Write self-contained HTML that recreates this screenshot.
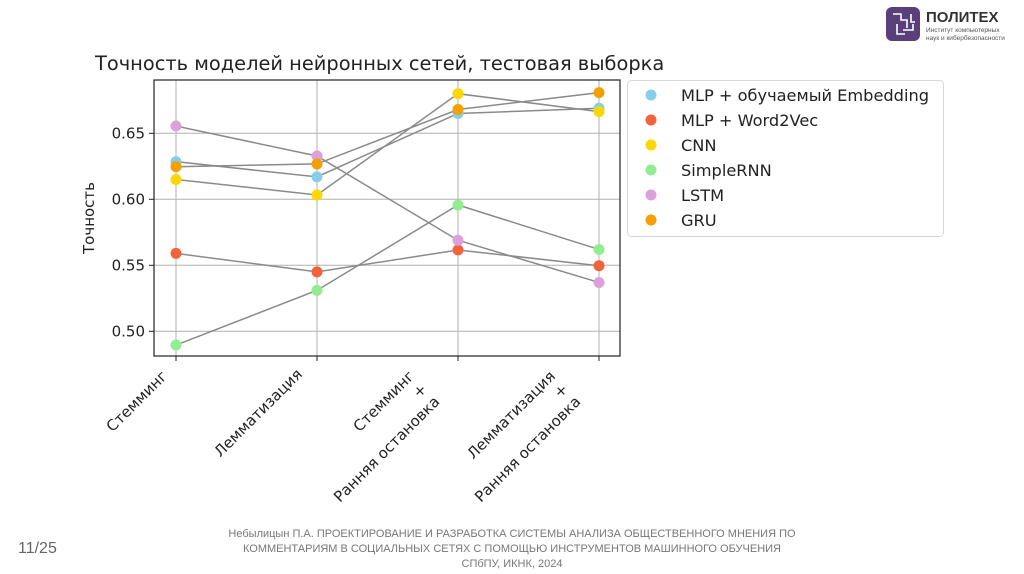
<!DOCTYPE html>
<html><head><meta charset="utf-8"><style>
body{margin:0;background:#fff;}
svg{display:block;font-family:"DejaVu Sans","Liberation Sans",sans-serif;}
</style></head><body>
<svg id="chart" width="1024" height="574" viewBox="0 0 1024 574">
  <g>
    <rect x="886" y="7" width="34" height="34" rx="6" fill="#5b3f7a"/>
    <path d="M893 14h8v6h6v8M897 24v10h8M911 14v8h4M903 30h10v-6" stroke="#fff" stroke-width="1.6" fill="none"/>
    <text x="926" y="22" font-size="15" font-weight="bold" fill="#333" font-family="Liberation Sans,sans-serif">ПОЛИТЕХ</text>
    <text x="926" y="32" font-size="6.5" fill="#555" font-family="Liberation Sans,sans-serif">Институт компьютерных</text>
    <text x="926" y="40" font-size="6.5" fill="#555" font-family="Liberation Sans,sans-serif">наук и кибербезопасности</text>
  </g>
  <text x="95" y="70" font-size="19.4" fill="#222">Точность моделей нейронных сетей, тестовая выборка</text>
  <g id="grid"></g>
  <g id="lines"></g>
  <g id="points"></g>
  <rect x="154" y="80" width="466" height="276" fill="none" stroke="#222" stroke-width="1.2"/>
  <g id="yticks"></g>
  <g id="xticks"></g>
  <text transform="translate(94,218) rotate(-90)" text-anchor="middle" font-size="15" fill="#222">Точность</text>
  <rect x="627.5" y="80.5" width="316" height="156" rx="4" fill="#fff" stroke="#d8d8d8"/>
  <g id="legend"></g>
  <g font-family="Liberation Sans,sans-serif" fill="#777" font-size="11" text-anchor="middle">
    <text x="512" y="537">Небылицын П.А. ПРОЕКТИРОВАНИЕ И РАЗРАБОТКА СИСТЕМЫ АНАЛИЗА ОБЩЕСТВЕННОГО МНЕНИЯ ПО</text>
    <text x="512" y="552">КОММЕНТАРИЯМ В СОЦИАЛЬНЫХ СЕТЯХ С ПОМОЩЬЮ ИНСТРУМЕНТОВ МАШИННОГО ОБУЧЕНИЯ</text>
    <text x="512" y="567">СПбПУ, ИКНК, 2024</text>
  </g>
  <text x="18" y="553" font-size="16" fill="#666" font-family="Liberation Sans,sans-serif">11/25</text>
</svg>
<script>
const categories = [["Стемминг"],["Лемматизация"],["Стемминг","+","Ранняя остановка"],["Лемматизация","+","Ранняя остановка"]];
const seriesNames = ["MLP + обучаемый Embedding","MLP + Word2Vec","CNN","SimpleRNN","LSTM","GRU"];
const seriesColors = ["#87ceeb","#f4623a","#ffd700","#90ee90","#dda0dd","#f5a000"];
const mlpEmb = [0.6285,0.617,0.665,0.669];
const mlpW2V = [0.559,0.545,0.5616,0.5497];
const cnn = [0.615,0.6033,0.680,0.6664];
const rnn = [0.4896,0.531,0.5957,0.562];
const lstm = [0.6555,0.6328,0.569,0.537];
const gru = [0.6247,0.6268,0.668,0.6808];
const yTicks = [0.50,0.55,0.60,0.65];
const yTickLabels = ["0.50","0.55","0.60","0.65"];
const NS="http://www.w3.org/2000/svg";
const series=[mlpEmb,mlpW2V,cnn,rnn,lstm,gru];
function xS(i){return 176+i*(599-176)/3;}
function yS(v){return 199.3-(v-0.6)*1320;}
function mk(tag,attrs,parent){const e=document.createElementNS(NS,tag);for(const k in attrs)e.setAttribute(k,attrs[k]);parent.appendChild(e);return e;}
const grid=document.getElementById('grid'),lines=document.getElementById('lines'),pts=document.getElementById('points'),yt=document.getElementById('yticks'),xt=document.getElementById('xticks'),lg=document.getElementById('legend');
yTicks.forEach((v,i)=>{
  const g=mk('line',{x1:154,x2:620,y1:yS(v),y2:yS(v),stroke:'#b0b0b0','stroke-width':1},grid);
  
  
  mk('line',{x1:149,x2:154,y1:yS(v),y2:yS(v),stroke:'#222'},yt);
  const t=mk('text',{x:145,y:yS(v)+5,'text-anchor':'end','font-size':15,fill:'#222'},yt);
  t.textContent=yTickLabels[i];
  
  
});
const anchorOffsets=[[-15,370],[-21,368],[-50,370],[-50,370]];
categories.forEach((lab,i)=>{
  const g=mk('line',{x1:xS(i),x2:xS(i),y1:80,y2:356,stroke:'#b0b0b0','stroke-width':1},grid);
  
  
  mk('line',{x1:xS(i),x2:xS(i),y1:356,y2:361,stroke:'#222'},xt);
  const ax=xS(i)+anchorOffsets[i][0], ay=anchorOffsets[i][1];
  const t=mk('text',{transform:`translate(${ax},${ay}) rotate(-45)`,'text-anchor':'end','font-size':15,fill:'#222'},xt);
  
  
  lab.forEach((ln,j)=>{const s=mk('tspan',{x:0,y:10+j*18},t);s.textContent=ln;});
});
series.forEach((vals,si)=>{
  const p=mk('polyline',{points:vals.map((v,i)=>xS(i)+','+yS(v)).join(' '),fill:'none',stroke:'#8a8a8a','stroke-width':1.5},lines);
  
  
});
series.forEach((vals,si)=>{
  vals.forEach((v,i)=>{
    const c=mk('circle',{cx:xS(i),cy:yS(v),r:5.5,fill:seriesColors[si]},pts);
    
    
  });
  const y=95+si*25;
  const lc=mk('circle',{cx:651,cy:y,r:5.5,fill:seriesColors[si]},lg);
  
  
  const lt=mk('text',{x:681,y:y+6,'font-size':16.2,fill:'#222'},lg);
  lt.textContent=seriesNames[si];
  
  
});
</script>
</body></html>
